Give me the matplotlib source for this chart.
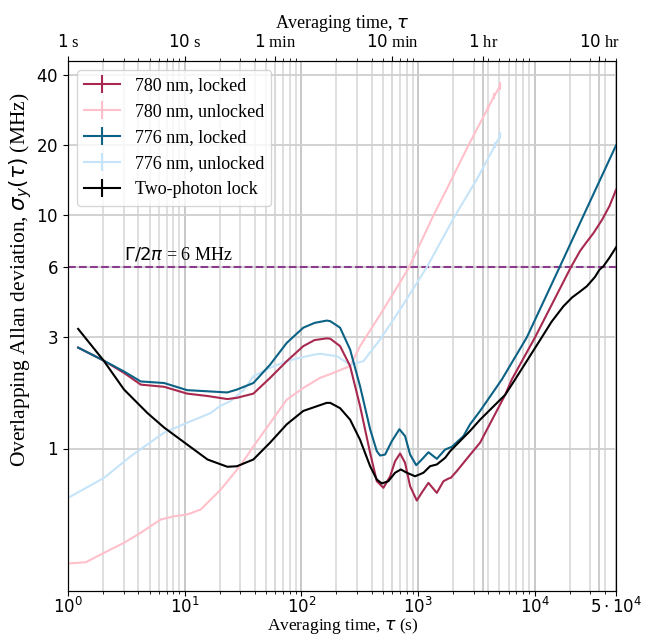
import numpy as np
import matplotlib
matplotlib.use("Agg")
import matplotlib.pyplot as plt
from matplotlib.ticker import FixedLocator, LogLocator, NullLocator, NullFormatter

# --- data (tau in s, sigma in MHz) ---
tau_780_lock = [1.22, 2.0, 3.02, 4.2, 6.66, 10.5, 15.7, 23.2, 28, 38.8, 54, 75, 104, 130, 165,
                177, 215, 262, 319, 389, 444, 506, 578, 637, 703, 776, 857, 978, 1100, 1231,
                1452, 1656, 1828, 1917, 2155, 2800, 3415, 5600, 6390, 10100, 20500, 24600,
                28000, 32000, 38000, 44000, 50000]
sig_780_lock = [2.71, 2.39, 2.11, 1.88, 1.84, 1.72, 1.68, 1.63, 1.65, 1.72, 2.01, 2.37, 2.75, 2.92, 2.97,
                2.96, 2.75, 2.26, 1.52, 0.958, 0.724, 0.678, 0.760, 0.882, 0.952, 0.868, 0.689, 0.598, 0.656, 0.712,
                0.645, 0.724, 0.743, 0.749, 0.80, 0.94, 1.06, 1.70, 1.98, 3.0, 6.0, 7.05,
                7.7, 8.4, 9.6, 11.0, 12.9]

tau_780_unlock = [1.0, 1.42, 2.04, 3.02, 4.2, 6.24, 8.11, 10.5, 13.7, 20.4, 30.3, 38.8, 75,
                  104, 145, 188, 262, 319, 474, 659, 840, 1358, 1770, 2710, 4000, 4500, 5070]
sig_780_unlock = [0.321, 0.325, 0.357, 0.394, 0.435, 0.496, 0.512, 0.521, 0.547, 0.667, 0.85, 1.02, 1.62,
                  1.82, 2.01, 2.11, 2.26, 2.75, 3.75, 4.9, 6.0, 10.0, 13.0, 20.0, 29.0, 32.5, 36.0]
err_780_unlock = [0] * 24 + [0.8, 1.0, 1.3]

tau_776_lock = [1.22, 2.0, 3.02, 4.2, 6.66, 10.5, 15.7, 23.2, 28, 38.8, 54, 75, 104, 130, 165,
                177, 215, 262, 319, 389, 444, 474, 523, 597, 694, 776, 857, 966, 1080, 1231,
                1452, 1711, 1953, 2455, 2800, 3415, 5250, 8590, 16400, 26300, 50000]
sig_776_lock = [2.71, 2.39, 2.14, 1.94, 1.91, 1.78, 1.76, 1.74, 1.79, 1.91, 2.29, 2.84, 3.30, 3.46, 3.54,
                3.52, 3.30, 2.66, 1.85, 1.21, 0.974, 0.933, 0.942, 1.075, 1.21, 1.13, 0.942, 0.848, 0.897, 0.964,
                0.903, 0.99, 1.017, 1.13, 1.27, 1.45, 1.98, 3.0, 6.0, 10.0, 20.0]

tau_776_unlock = [1.0, 2.04, 3.45, 6.66, 10.5, 16.7, 20, 24.9, 32.3, 38.8, 54, 75, 104, 130, 145,
                  202, 262, 341, 474, 617, 703, 1192, 2085, 3200, 4590, 5070]
sig_776_unlock = [0.614, 0.749, 0.927, 1.17, 1.29, 1.42, 1.52, 1.60, 1.79, 2.04, 2.22, 2.37, 2.47, 2.53, 2.55,
                  2.49, 2.29, 2.37, 2.94, 3.58, 3.95, 6.0, 10.0, 14.3, 20.0, 22.0]
err_776_unlock = [0] * 24 + [0.6, 0.8]

tau_2ph = [1.22, 2.01, 3.02, 4.79, 6.66, 10.5, 15.7, 23.2, 28, 38.8, 54, 75, 104, 165, 177, 215,
           262, 319, 389, 444, 490, 558, 637, 713, 803, 946, 1115, 1273, 1452, 1711, 1889, 2800,
           3415, 5600, 6820, 11540, 14000, 17700, 21000, 24600, 28100, 33000, 36000, 39000,
           44000, 50000]
sig_2ph = [3.26, 2.39, 1.79, 1.42, 1.23, 1.04, 0.897, 0.835, 0.839, 0.897, 1.06, 1.27, 1.45, 1.57, 1.57, 1.49,
           1.33, 1.09, 0.84, 0.736, 0.708, 0.724, 0.787, 0.813, 0.787, 0.760, 0.787, 0.84, 0.854, 0.912, 0.974, 1.19,
           1.33, 1.70, 1.98, 3.0, 3.5, 4.08, 4.45, 4.72, 4.97, 5.45, 5.85, 6.06,
           6.6, 7.3]

linewidth_mhz = 6.0

bottom_ticks = [1, 10, 100, 1000, 10000, 50000]
bottom_labels = [r"$10^0$", r"$10^1$", r"$10^2$", r"$10^3$", r"$10^4$", r"$5\cdot10^4$"]
top_ticks = [1, 10, 60, 600, 3600, 36000]
top_labels = [r"$1$ s", r"$10$ s", r"$1$ min", r"$10$ min", r"$1$ hr", r"$10$ hr"]
y_ticks = [1, 3, 6, 10, 20, 40]
y_labels = [r"$1$", r"$3$", r"$6$", r"$10$", r"$20$", r"$40$"]

# --- style ---
plt.rcParams['font.family'] = ['Liberation Serif', 'DejaVu Serif']
plt.rcParams['mathtext.fontset'] = 'dejavusans'
plt.rcParams['font.size'] = 12

c_780 = '#a8294f'
c_780u = '#ffc0cb'
c_776 = '#0b6285'
c_776u = '#c6e4f9'
c_2ph = 'black'

fig = plt.figure(figsize=(6.61, 6.36), dpi=100)
ax = fig.add_axes([0.103, 0.071, 0.829, 0.833])
ax.set_xscale('log')
ax.set_yscale('log')
ax.set_xlim(1, 5e4)
ax.set_ylim(0.245, 46)

ax.xaxis.set_major_locator(FixedLocator(bottom_ticks))
ax.set_xticklabels(bottom_labels)
ax.xaxis.set_minor_locator(LogLocator(base=10, subs=np.arange(2, 10), numticks=20))
ax.xaxis.set_minor_formatter(NullFormatter())
ax.tick_params(axis='x', which='major', pad=1)
ax.yaxis.set_major_locator(FixedLocator(y_ticks))
ax.set_yticklabels(y_labels)
ax.yaxis.set_minor_locator(NullLocator())

ax.grid(which='minor', axis='x', color='#dcdcdc', lw=1.3, zorder=0)
ax.grid(which='major', axis='x', color='#c4c4c4', lw=1.3, zorder=0)
ax.grid(which='major', axis='y', color='#cfcfcf', lw=1.3, zorder=0)
for t in top_ticks[2:]:
    ax.axvline(t, color='#c8c8c8', lw=1.3, zorder=0.5)
ax.set_axisbelow(True)

ax.axhline(linewidth_mhz, color='#8b3b8b', ls='--', lw=1.5, zorder=1)
ax.text(3.0, 6.25, r"$\Gamma/2\pi$ = 6 MHz", fontsize=13, va='bottom', ha='left')

ax.errorbar(tau_780_lock, sig_780_lock, yerr=np.zeros(len(tau_780_lock)), color=c_780, lw=1.5,
            label='780 nm, locked', zorder=3)
ax.errorbar(tau_780_unlock, sig_780_unlock, yerr=err_780_unlock, color=c_780u, lw=1.5,
            label='780 nm, unlocked', zorder=2)
ax.errorbar(tau_776_lock, sig_776_lock, yerr=np.zeros(len(tau_776_lock)), color=c_776, lw=1.5,
            label='776 nm, locked', zorder=3)
ax.errorbar(tau_776_unlock, sig_776_unlock, yerr=err_776_unlock, color=c_776u, lw=1.5,
            label='776 nm, unlocked', zorder=2)
ax.errorbar(tau_2ph, sig_2ph, yerr=np.zeros(len(tau_2ph)), color=c_2ph, lw=1.5,
            label='Two-photon lock', zorder=4)

ax.set_xlabel(r"Averaging time, $\tau$ (s)", fontsize=12.5)
ax.xaxis.set_label_coords(0.502, -0.048)
ax.set_ylabel(r"Overlapping Allan deviation, $\sigma_y(\tau)$ (MHz)", fontsize=15.5)
ax.yaxis.set_label_coords(-0.063, 0.587)
ax.legend(loc='upper left', fontsize=13)

ax2 = ax.twiny()
ax2.set_xscale('log')
ax2.set_xlim(ax.get_xlim())
ax2.xaxis.set_major_locator(FixedLocator(top_ticks))
ax2.set_xticklabels(top_labels)
ax2.xaxis.set_minor_locator(LogLocator(base=10, subs=np.arange(2, 10), numticks=20))
ax2.xaxis.set_minor_formatter(NullFormatter())
ax2.set_xlabel(r"Averaging time, $\tau$", fontsize=13)
ax2.xaxis.set_label_coords(0.5, 1.062)

fig.savefig('out.png', dpi=100)
